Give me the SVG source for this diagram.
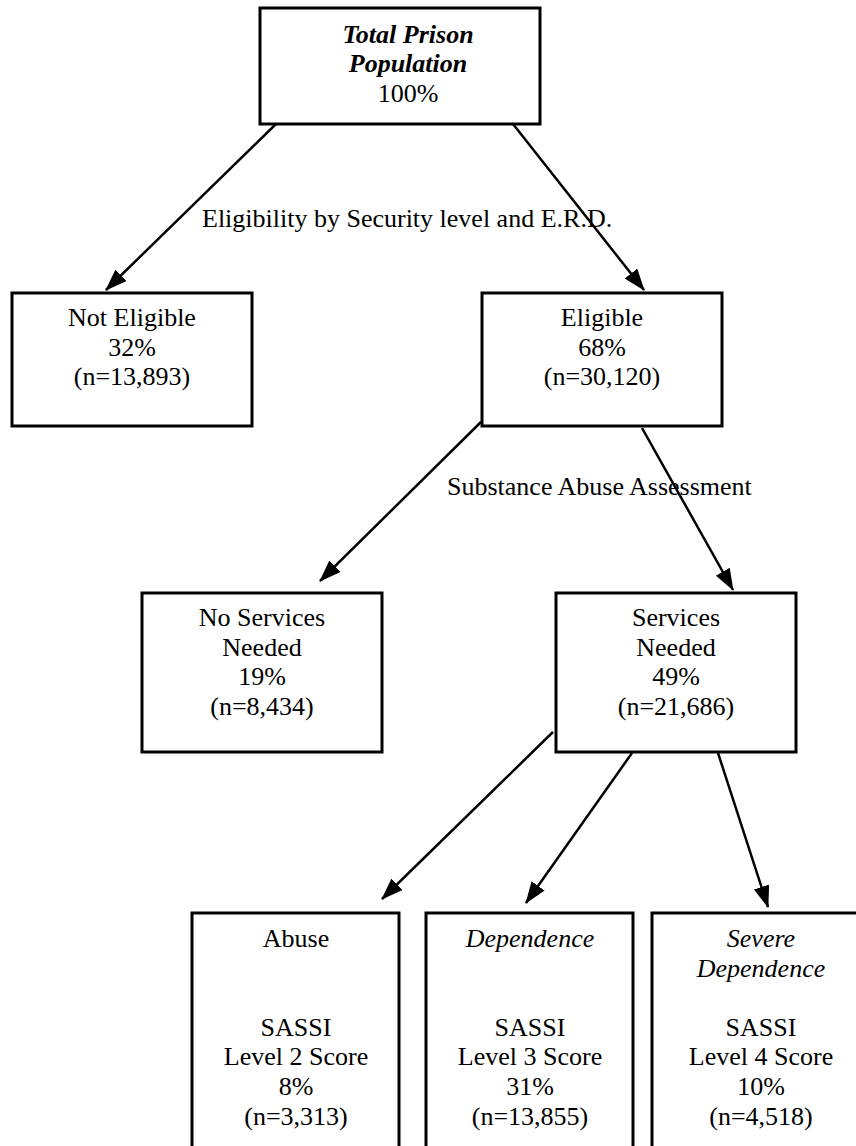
<svg xmlns="http://www.w3.org/2000/svg" width="856" height="1146" viewBox="0 0 856 1146">
<style>
.box{fill:#fff;stroke:#000;stroke-width:3}
.t{font-family:"Liberation Serif","Times New Roman",serif;font-size:26px;fill:#000;text-anchor:middle}
.bi{font-weight:bold;font-style:italic}
.it{font-style:italic}
.lbl{font-family:"Liberation Serif","Times New Roman",serif;font-size:26px;fill:#000}
.c{stroke:#000;stroke-width:2.5;fill:none;marker-end:url(#ah)}
</style>
<defs>
<marker id="ah" markerUnits="userSpaceOnUse" markerWidth="22" markerHeight="16" refX="21" refY="8" orient="auto">
<path d="M0,0 L22,8 L0,16 z" fill="#000"/>
</marker>
</defs>
<rect width="856" height="1146" fill="#fff"/>
<g id="connectors">
<line class="c" x1="276" y1="124" x2="106" y2="290"/>
<line class="c" x1="513" y1="124" x2="644" y2="290"/>
<line class="c" x1="481" y1="422" x2="320" y2="581"/>
<line class="c" x1="642" y1="428" x2="733" y2="590"/>
<line class="c" x1="553" y1="732" x2="382" y2="899"/>
<line class="c" x1="632" y1="753" x2="526" y2="903"/>
<line class="c" x1="718" y1="753" x2="768" y2="907"/>
</g>
<g id="edge-labels">
<text class="lbl" x="202" y="227">Eligibility by Security level and E.R.D.</text>
<text class="lbl" x="447" y="495">Substance Abuse Assessment</text>
</g>
<g id="total">
<rect class="box" x="260" y="8" width="280" height="116"/>
<text class="t bi" x="408" y="43">Total Prison</text>
<text class="t bi" x="408" y="72">Population</text>
<text class="t" x="408" y="102">100%</text>
</g>
<g id="not-eligible">
<rect class="box" x="12" y="293" width="240" height="133"/>
<text class="t" x="132" y="326">Not Eligible</text>
<text class="t" x="132" y="356">32%</text>
<text class="t" x="132" y="385">(n=13,893)</text>
</g>
<g id="eligible">
<rect class="box" x="482" y="293" width="240" height="133"/>
<text class="t" x="602" y="326">Eligible</text>
<text class="t" x="602" y="356">68%</text>
<text class="t" x="602" y="385">(n=30,120)</text>
</g>
<g id="no-services">
<rect class="box" x="142" y="593" width="240" height="159"/>
<text class="t" x="262" y="626">No Services</text>
<text class="t" x="262" y="656">Needed</text>
<text class="t" x="262" y="685">19%</text>
<text class="t" x="262" y="715">(n=8,434)</text>
</g>
<g id="services">
<rect class="box" x="556" y="593" width="240" height="159"/>
<text class="t" x="676" y="626">Services</text>
<text class="t" x="676" y="656">Needed</text>
<text class="t" x="676" y="685">49%</text>
<text class="t" x="676" y="715">(n=21,686)</text>
</g>
<g id="abuse">
<rect class="box" x="192" y="913" width="207" height="260"/>
<text class="t" x="296" y="947">Abuse</text>
<text class="t" x="296" y="1036">SASSI</text>
<text class="t" x="296" y="1065">Level 2 Score</text>
<text class="t" x="296" y="1095">8%</text>
<text class="t" x="296" y="1125">(n=3,313)</text>
</g>
<g id="dependence">
<rect class="box" x="426" y="913" width="207" height="260"/>
<text class="t it" x="530" y="947">Dependence</text>
<text class="t" x="530" y="1036">SASSI</text>
<text class="t" x="530" y="1065">Level 3 Score</text>
<text class="t" x="530" y="1095">31%</text>
<text class="t" x="530" y="1125">(n=13,855)</text>
</g>
<g id="severe-dependence">
<rect class="box" x="652" y="913" width="207" height="260"/>
<text class="t it" x="761" y="947">Severe</text>
<text class="t it" x="761" y="977">Dependence</text>
<text class="t" x="761" y="1036">SASSI</text>
<text class="t" x="761" y="1065">Level 4 Score</text>
<text class="t" x="761" y="1095">10%</text>
<text class="t" x="761" y="1125">(n=4,518)</text>
</g>
</svg>
